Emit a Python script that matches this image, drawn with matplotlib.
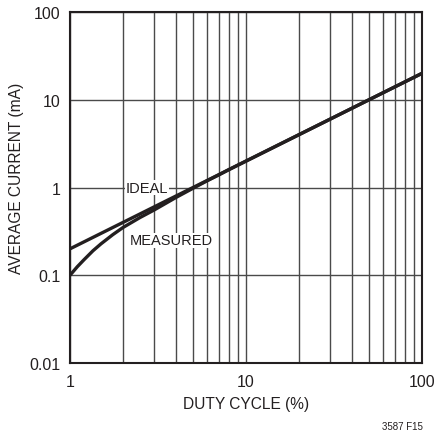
import matplotlib
matplotlib.use("Agg")
import matplotlib.pyplot as plt
from matplotlib.ticker import FixedLocator, NullFormatter, NullLocator

plt.rcParams['font.family'] = ['Liberation Sans', 'DejaVu Sans']

# Data
ideal_x = [1, 100]
ideal_y = [0.2, 20]
meas_x = [1, 1.1, 1.2, 1.35, 1.5, 1.75, 2, 2.5, 3, 4, 5, 6, 7, 8, 10, 20, 50, 100]
meas_y = [0.1, 0.125, 0.15, 0.19, 0.228, 0.29, 0.35, 0.455, 0.553, 0.77, 0.98, 1.19,
          1.39, 1.6, 2.0, 4.0, 10.0, 20.0]
x_ticks = [1, 10, 100]
x_tick_labels = ["1", "10", "100"]
y_ticks = [0.01, 0.1, 1, 10, 100]
y_tick_labels = ["0.01", "0.1", "1", "10", "100"]

ink = '#231f20'
fig = plt.figure(figsize=(4.38, 4.35), dpi=100)
ax = fig.add_axes([70/438, 1 - 364/435, 352/438, 351/435])

ax.set_xscale('log')
ax.set_yscale('log')
ax.set_xlim(1, 100)
ax.set_ylim(0.01, 100)

minor_x = [m * d for d in (1, 10) for m in range(2, 10)]
ax.xaxis.set_major_locator(FixedLocator(x_ticks))
ax.xaxis.set_minor_locator(FixedLocator(minor_x))
ax.xaxis.set_minor_formatter(NullFormatter())
ax.set_xticklabels(x_tick_labels)
ax.yaxis.set_major_locator(FixedLocator(y_ticks))
ax.yaxis.set_minor_locator(NullLocator())
ax.set_yticklabels(y_tick_labels)

gc = '#4a4a4a'
ax.grid(True, which='major', axis='both', color=gc, linewidth=1.0)
ax.grid(True, which='minor', axis='x', color=gc, linewidth=1.0)
ax.set_axisbelow(True)

ax.tick_params(which='both', length=0, labelsize=11.5, colors=ink)
ax.tick_params(axis='x', pad=8)
ax.tick_params(axis='y', pad=7)
for s in ax.spines.values():
    s.set_color(ink)
    s.set_linewidth(1.5)

ax.plot(ideal_x, ideal_y, color=ink, linewidth=2.4, solid_capstyle='butt', zorder=3)
ax.plot(meas_x, meas_y, color=ink, linewidth=2.4, solid_capstyle='butt',
        solid_joinstyle='round', zorder=3)

ax.text(2.73, 1.0, "IDEAL", ha='center', va='center', fontsize=10.5, color=ink,
        bbox=dict(facecolor='white', edgecolor='none', pad=0.5), zorder=4)
ax.text(3.78, 0.25, "MEASURED", ha='center', va='center', fontsize=10.5, color=ink,
        bbox=dict(facecolor='white', edgecolor='none', pad=0.5), zorder=4)

ax.set_xlabel("DUTY CYCLE (%)", fontsize=11.2, color=ink, va='center')
ax.set_ylabel("AVERAGE CURRENT (mA)", fontsize=11.2, color=ink, va='center')
ax.xaxis.set_label_coords(0.5, (364 - 405) / 351)
ax.yaxis.set_label_coords((17 - 70) / 352, (364 - 178) / 351)

fig.text(402/438, 1 - 427/435, "3587 F15", ha='center', va='center', fontsize=7, color=ink)

fig.savefig("out.png", dpi=100)
